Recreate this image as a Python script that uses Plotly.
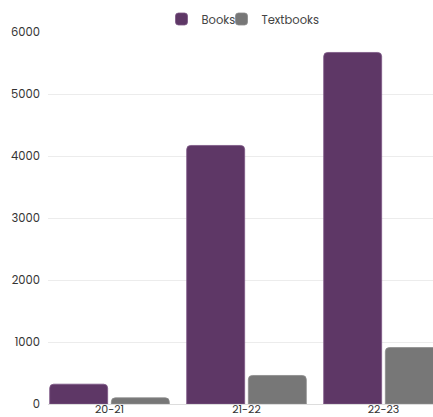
import plotly.graph_objects as go

categories = ["20-21", "21-22", "22-23"]
books = [320, 4170, 5670]
textbooks = [100, 460, 910]
y_ticks = [0, 1000, 2000, 3000, 4000, 5000, 6000]

W, H = 433, 417
ml, mr, mt, mb = 48, 0, 32, 13
cat_px = 137.0
x_lo = -0.5 + 7 / cat_px
x_hi = x_lo + (W - ml - mr) / cat_px

fig = go.Figure()
fig.add_trace(go.Bar(name="Books", x=categories, y=books, legend="legend",
                     marker=dict(color="#5e3766", line=dict(color="#7b5584", width=0.8))))
fig.add_trace(go.Bar(name="Textbooks", x=categories, y=textbooks, legend="legend2",
                     marker=dict(color="#777777", line=dict(color="#8c8c8c", width=0.8))))

leg_common = dict(orientation="h", xref="container", yref="container",
                  xanchor="left", y=1 - 19 / H, yanchor="middle",
                  font=dict(size=11.5, color="#444444"), borderwidth=0,
                  bgcolor="rgba(0,0,0,0)")

fig.update_layout(
    width=W, height=H,
    margin=dict(l=ml, r=mr, t=mt, b=mb, autoexpand=False),
    paper_bgcolor="white", plot_bgcolor="white",
    font=dict(family="Poppins, Lato, sans-serif", size=11.5, color="#444444"),
    barmode="group", bargap=0.1, bargroupgap=0.06, barcornerradius=4,
    showlegend=True,
    legend=dict(x=(181.5 - 20) / W, **leg_common),
    legend2=dict(x=(241.5 - 20) / W, **leg_common),
    xaxis=dict(range=[x_lo, x_hi], showgrid=False, showline=True, automargin=False,
               linecolor="#dddddd", linewidth=1, ticks="",
               tickfont=dict(size=11, color="#333333")),
    yaxis=dict(range=[0, 6000], tickvals=y_ticks, gridcolor="#ececec", automargin=False,
               zeroline=False, ticks="", ticklabelstandoff=7,
               tickfont=dict(size=11.5, color="#333333")),
)
fig.update_xaxes(ticklabelstandoff=-5)
fig.write_html("out.html")
